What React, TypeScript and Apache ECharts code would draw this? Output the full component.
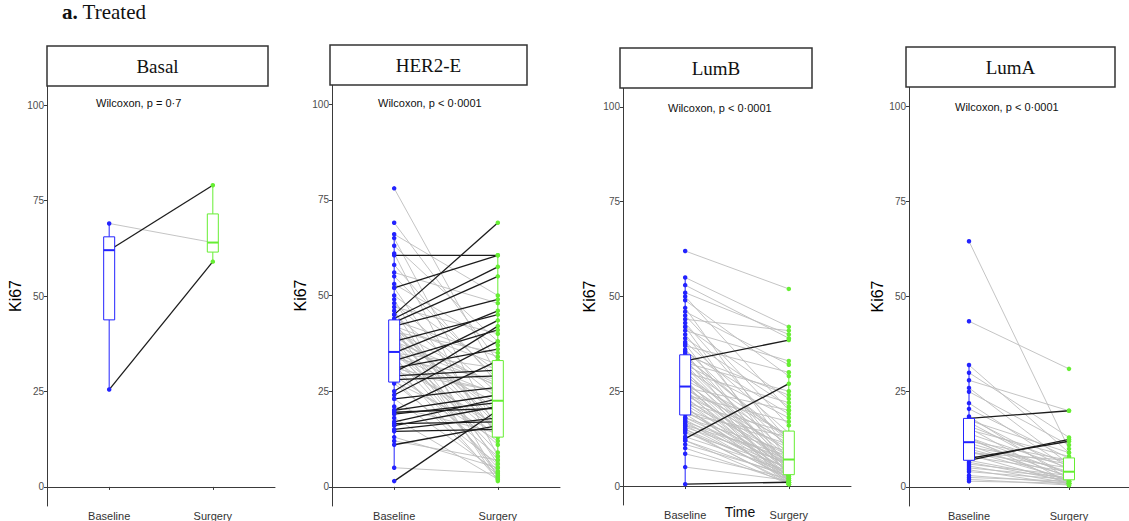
import React, { useEffect, useRef } from "react";
import * as echarts from "echarts";

const panelNames = ["Basal", "HER2-E", "LumB", "LumA"];
const pTexts = ["Wilcoxon, p = 0·7", "Wilcoxon, p < 0·0001", "Wilcoxon, p < 0·0001", "Wilcoxon, p < 0·0001"];
const timeLabels = ["Baseline", "Surgery"];
const yTicks = [0, 25, 50, 75, 100];

const basalBaseline = [69, 62, 25.5];
const basalSurgery = [64, 79, 59];

const her2Baseline = [
  1.5, 11, 14.5, 15, 16, 16.5, 17, 19, 19.5, 20, 20, 23, 24, 25, 5, 12, 13, 18, 21, 23,
  28, 29, 30, 31, 33, 27, 27.5, 28, 29, 30, 30.5, 31, 32, 32, 33, 33.5, 34, 34.5, 35, 35,
  35, 38, 42, 35.5, 35, 36.5, 37, 37.5, 38, 38.5, 39, 39.5, 40, 40.5, 41, 41, 41.5, 42, 42, 42.5,
  43, 44, 45, 52, 60.5, 43.5, 42.5, 45, 46, 47, 48, 49, 50, 52, 53, 55, 56, 58, 61, 63, 65, 66, 69, 78,
];
const her2Surgery = [
  20, 16, 15, 18, 21, 17, 23, 22, 20.5, 24, 33, 26, 38, 42, 3.5, 7, 5, 2, 14, 4,
  29, 30.5, 43.5, 36, 41, 6, 14, 3, 12, 25, 8, 25, 2, 16, 15, 28, 5, 22, 11, 24,
  46, 45, 49, 13, 31, 4, 26.5, 9, 27, 15, 3, 20, 19, 35, 7, 26, 17, 1.5, 32, 16,
  55, 57.5, 69, 60.5, 60.5, 34, 14, 23, 6, 40, 24.5, 2.5, 30, 13, 37, 28, 48, 27, 8, 38, 14.5, 50, 33, 29,
];

const lumBBaseline = [
  0.5, 5, 8.5, 10, 11, 12, 12.5, 13, 14, 14.5, 15, 15.5, 16, 16.5, 17, 17, 17.5, 18, 18, 12, 15, 16,
  19, 19.5, 20, 20, 20.5, 21, 21.5, 22, 22, 22.5, 23, 23.5, 24, 24, 24.5, 25, 25, 25.5, 26, 26, 19, 21,
  26.5, 27, 27.5, 28, 28, 29, 29.5, 30, 30, 30.5, 31, 31.5, 32, 32, 32.5, 33, 33, 33.5, 34, 34, 34.5, 27,
  35, 35.5, 36, 37, 37.5, 38, 39, 40, 41, 42, 42, 43, 44, 45, 46, 47, 49, 50, 51, 53, 55, 62,
];
const lumBSurgery = [
  1, 1.5, 2, 1, 3, 2.5, 27, 4, 5, 1, 3, 6, 2, 4.5, 1.5, 7, 3, 5.5, 9, 0.5, 0.5, 8,
  2, 6, 3, 11, 4, 1, 5, 8, 14, 2.5, 6.5, 3, 10, 17, 4, 7, 1.5, 12, 5, 20, 13, 0.5,
  3.5, 9, 6, 13.5, 2, 11, 5, 22, 7.5, 1, 13, 4, 18, 6, 25, 38.5, 8.5, 3, 12.5, 12, 24, 0.5,
  5, 19, 10, 30, 2.5, 14, 21, 7, 33, 4.5, 23, 12, 41, 16, 32, 9, 29, 20, 40, 39, 42, 52,
];

const lumABaseline = [
  1.5, 2, 2.5, 3, 4, 4.5, 5, 5.5, 6, 6.5, 7, 7.5, 7, 8, 8.5, 9, 9.5, 10, 10.5, 11, 11.5, 12,
  12.5, 13, 14, 15, 15.5, 16, 17, 17.5, 18, 18, 18.5, 20.5, 22, 25, 26, 28, 30, 32, 43.5, 64.5, 13, 9,
];
const lumASurgery = [
  1, 0.5, 1.5, 1, 2, 0.5, 2.5, 1, 3, 1.5, 12.5, 12, 2, 4, 1, 5, 2, 3, 6, 1.5, 4, 7,
  2.5, 3.5, 5, 8, 1, 6, 3, 9, 20, 4.5, 2, 7.5, 5, 11, 6, 20, 13, 9, 31, 10, 0.5, 7,
];

const baselineSets = [basalBaseline, her2Baseline, lumBBaseline, lumABaseline];
const surgerySets = [basalSurgery, her2Surgery, lumBSurgery, lumASurgery];

const BLUE = "#2323ff";
const GREEN = "#66ee33";
const SANS = "Liberation Sans, Arial, sans-serif";
const SERIF = "Liberation Serif, Times New Roman, serif";

const layout = [
  { grid: { left: 47, top: 86, width: 228, height: 423 }, box: [47, 46, 221, 40], ptext: [96, 103], gap: 24 },
  { grid: { left: 332, top: 85, width: 228, height: 422 }, box: [330, 45, 197, 40], ptext: [378, 103], gap: 24 },
  { grid: { left: 623, top: 88, width: 228, height: 417 }, box: [620, 48, 192, 40], ptext: [668, 108], gap: 26 },
  { grid: { left: 909, top: 87, width: 228, height: 420 }, box: [906, 47, 209, 40], ptext: [955, 107], gap: 22 },
];

function quantile(s: number[], p: number) {
  const h = (s.length - 1) * p;
  const lo = Math.floor(h);
  const hi = Math.ceil(h);
  return s[lo] + (h - lo) * (s[hi] - s[lo]);
}
function boxStats(values: number[]) {
  const s = [...values].sort((a, b) => a - b);
  const q1 = quantile(s, 0.25);
  const med = quantile(s, 0.5);
  const q3 = quantile(s, 0.75);
  const iqr = q3 - q1;
  const lo = s.find((v) => v >= q1 - 1.5 * iqr) as number;
  const hi = [...s].reverse().find((v) => v <= q3 + 1.5 * iqr) as number;
  return [lo, q1, med, q3, hi];
}

function pairLines(i: number, up: boolean) {
  const b = baselineSets[i];
  const s = surgerySets[i];
  const data: number[][] = [];
  b.forEach((v, j) => {
    if ((s[j] >= v) === up) data.push([1, v, 2, s[j]]);
  });
  return {
    type: "custom",
    xAxisIndex: i,
    yAxisIndex: i,
    z: up ? 2 : 1,
    silent: true,
    encode: { x: [0, 2], y: [1, 3] },
    data,
    renderItem: (_p: any, api: any) => {
      const a = api.coord([api.value(0), api.value(1)]);
      const c = api.coord([api.value(2), api.value(3)]);
      return {
        type: "line",
        shape: { x1: a[0], y1: a[1], x2: c[0], y2: c[1] },
        style: { stroke: up ? "#1c1c1c" : "#bdbdbd", lineWidth: up ? 1.3 : 0.9 },
      };
    },
  };
}

function boxSeries(i: number) {
  return {
    type: "custom",
    xAxisIndex: i,
    yAxisIndex: i,
    z: 5,
    silent: true,
    encode: { x: 0, y: [1, 2, 3, 4, 5] },
    data: [
      [1, ...boxStats(baselineSets[i])],
      [2, ...boxStats(surgerySets[i])],
    ],
    renderItem: (_p: any, api: any) => {
      const x = api.value(0);
      const color = x === 1 ? BLUE : GREEN;
      const lo = api.coord([x, api.value(1)]);
      const q1 = api.coord([x, api.value(2)]);
      const md = api.coord([x, api.value(3)]);
      const q3 = api.coord([x, api.value(4)]);
      const hi = api.coord([x, api.value(5)]);
      const hw = 5.5;
      return {
        type: "group",
        children: [
          { type: "line", shape: { x1: lo[0], y1: lo[1], x2: lo[0], y2: q1[1] }, style: { stroke: color, lineWidth: 1 } },
          { type: "line", shape: { x1: hi[0], y1: hi[1], x2: hi[0], y2: q3[1] }, style: { stroke: color, lineWidth: 1 } },
          {
            type: "rect",
            shape: { x: q3[0] - hw, y: q3[1], width: hw * 2, height: q1[1] - q3[1] },
            style: { fill: "#ffffff", stroke: color, lineWidth: 1 },
          },
          { type: "line", shape: { x1: md[0] - hw, y1: md[1], x2: md[0] + hw, y2: md[1] }, style: { stroke: color, lineWidth: 2 } },
        ],
      };
    },
  };
}

function scatter(i: number, which: 0 | 1) {
  const vals = which === 0 ? baselineSets[i] : surgerySets[i];
  return {
    type: "scatter",
    xAxisIndex: i,
    yAxisIndex: i,
    z: 3,
    silent: true,
    symbolSize: 4.5,
    itemStyle: { color: which === 0 ? BLUE : GREEN, opacity: 1 },
    data: vals.map((v) => [which + 1, v]),
  };
}

export default function App() {
  const ref = useRef<HTMLDivElement>(null);
  useEffect(() => {
    if (!ref.current) return;
    const chart = echarts.init(ref.current, undefined, { renderer: "svg" });
    const grids = layout.map((l) => ({ ...l.grid, containLabel: false }));
    const xAxes = layout.map((_, i) => ({
      type: "value",
      gridIndex: i,
      min: 0.4,
      max: 2.6,
      splitLine: { show: false },
      axisLine: { show: true, lineStyle: { color: "#3a3a3a", width: 1 } },
      axisTick: { show: true, customValues: [1, 2], length: 3, lineStyle: { color: "#3a3a3a" } },
      axisLabel: {
        customValues: [1, 2],
        formatter: (v: number) => timeLabels[Math.round(v) - 1],
        color: "#333",
        fontSize: 11,
        fontFamily: SANS,
        margin: 4,
      },
    }));
    const yAxes = layout.map((l, i) => ({
      type: "value",
      gridIndex: i,
      min: -5,
      max: 105,
      name: "Ki67",
      nameLocation: "middle",
      nameRotate: 90,
      nameGap: l.gap,
      nameTextStyle: { fontSize: 16, color: "#000", fontFamily: SANS },
      splitLine: { show: false },
      axisLine: { show: true, lineStyle: { color: "#3a3a3a", width: 1 } },
      axisTick: { show: true, customValues: yTicks, length: 3, lineStyle: { color: "#3a3a3a" } },
      axisLabel: { customValues: yTicks, color: "#4d4d4d", fontSize: 10, fontFamily: SANS, margin: 3 },
    }));
    const series: any[] = [];
    layout.forEach((_, i) => {
      series.push(pairLines(i, false));
      series.push(pairLines(i, true));
      series.push(scatter(i, 0));
      series.push(scatter(i, 1));
      series.push(boxSeries(i));
    });
    const graphic: any[] = [];
    layout.forEach((l, i) => {
      graphic.push({
        type: "rect",
        shape: { x: l.box[0], y: l.box[1], width: l.box[2], height: l.box[3] },
        style: { fill: "#fff", stroke: "#333", lineWidth: 1.5 },
        z: 10,
      });
      graphic.push({
        type: "text",
        x: l.box[0] + l.box[2] / 2,
        y: l.box[1] + l.box[3] / 2,
        style: { text: panelNames[i], font: `19px ${SERIF}`, fill: "#111", align: "center", verticalAlign: "middle" },
        z: 11,
      });
      graphic.push({
        type: "text",
        x: l.ptext[0],
        y: l.ptext[1],
        style: { text: pTexts[i], font: `11px ${SANS}`, fill: "#111", align: "left", verticalAlign: "middle" },
        z: 11,
      });
    });
    graphic.push({
      type: "text",
      x: 62,
      y: 1,
      style: {
        text: "{b|a.} Treated",
        rich: { b: { fontWeight: "bold", fontSize: 21, fontFamily: SERIF } },
        font: `21px ${SERIF}`,
        fill: "#111",
        align: "left",
        verticalAlign: "top",
      },
      z: 11,
    });
    graphic.push({
      type: "text",
      x: 740,
      y: 505,
      style: { text: "Time", font: `14px ${SANS}`, fill: "#111", align: "center", verticalAlign: "top" },
      z: 11,
    });
    chart.setOption({
      animation: false,
      backgroundColor: "#ffffff",
      grid: grids,
      xAxis: xAxes,
      yAxis: yAxes,
      series,
      graphic,
    });
    return () => chart.dispose();
  }, []);
  return (
    <div
      ref={ref}
      style={{ position: "fixed", left: 0, top: 0, width: 1129, height: 521, background: "#fff" }}
    />
  );
}
